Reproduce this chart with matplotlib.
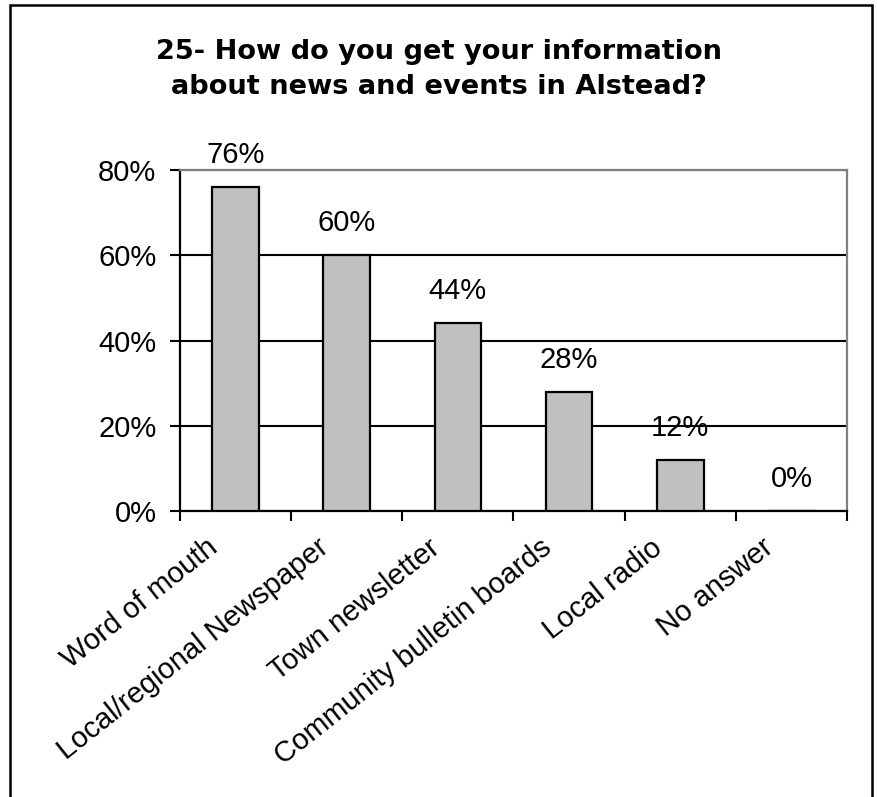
import matplotlib.pyplot as plt
import matplotlib.patches as patches
import matplotlib.transforms as mtransforms
import numpy as np

plt.rcParams['font.family'] = ['Liberation Sans', 'DejaVu Sans']

# Data
categories = ["Word of mouth", "Local/regional Newspaper", "Town newsletter",
              "Community bulletin boards", "Local radio", "No answer"]
percents = [76, 60, 44, 28, 12, 0]
yticks = [0, 20, 40, 60, 80]
title = "25- How do you get your information\nabout news and events in Alstead?"

fig = plt.figure(figsize=(8.78, 7.97), dpi=100)
ax = fig.add_axes([0.205, 0.3588, 0.7597, 0.4279])

x = np.arange(len(categories))
ax.bar(x, percents, width=0.42, color="#c0c0c0", edgecolor="black",
       linewidth=1.6, zorder=3)

for xi, v in zip(x, percents):
    ax.annotate(f"{v}%", (xi, v), xytext=(0, 13), textcoords="offset points",
                ha="center", va="bottom", fontsize=21)

ax.set_xlim(-0.5, len(categories) - 0.5)
ax.set_ylim(0, 80)
ax.set_yticks(yticks)
ax.set_yticklabels([f"{t}%" for t in yticks], fontsize=21)
ax.yaxis.grid(True, color="black", linewidth=1.5, zorder=0)

# ticks at category boundaries, labels at the centres
ax.set_xticks(np.arange(len(categories) + 1) - 0.5)
ax.set_xticklabels([])
ax.set_xticks(x, minor=True)
ax.set_xticklabels(categories, minor=True, rotation=38.5, ha="right",
                   rotation_mode="anchor", fontsize=21)
ax.tick_params(axis="x", which="minor", length=0, pad=6)
ax.tick_params(axis="x", which="major", length=7, width=1.5, direction="out")
ax.tick_params(axis="y", length=7, width=1.5, direction="out", pad=10)

# nudge the slanted labels down-left like the original
shift = mtransforms.ScaledTranslation(-0.30, -0.14, fig.dpi_scale_trans)
for lab in ax.get_xticklabels(minor=True):
    lab.set_transform(lab.get_transform() + shift)

for s in ["left", "bottom"]:
    ax.spines[s].set_linewidth(1.6)
    ax.spines[s].set_color("black")
for s in ["top", "right"]:
    ax.spines[s].set_linewidth(1.6)
    ax.spines[s].set_color("#808080")

fig.text(0.5, 0.913, title, ha="center", va="center", fontsize=19.6,
         fontweight="bold", linespacing=1.42, family="DejaVu Sans")

# outer border
fig.patches.append(patches.Rectangle((10 / 878, -0.02), 862 / 878, 1.02 - 5 / 797,
                                     transform=fig.transFigure, fill=False,
                                     edgecolor="black", linewidth=1.8))

plt.savefig("out.png", dpi=100)
